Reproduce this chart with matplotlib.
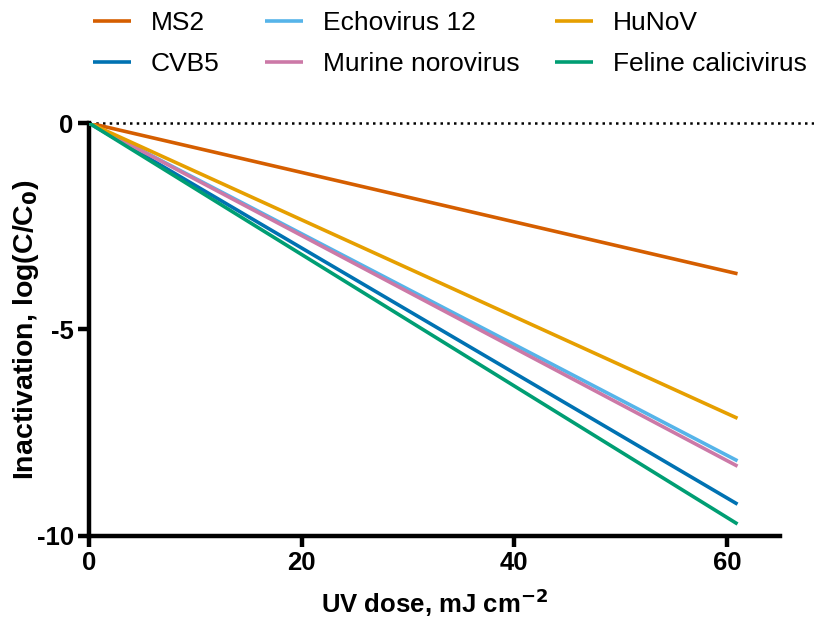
import matplotlib
matplotlib.use("Agg")
import matplotlib.pyplot as plt
import numpy as np

plt.rcParams['font.family'] = ['Liberation Sans', 'DejaVu Sans']

# virus names and inactivation reached at the highest UV dose
virus = ['MS2', 'CVB5', 'Echovirus 12', 'Murine norovirus', 'HuNoV', 'Feline calicivirus']
log_final = [-3.65, -9.23, -8.18, -8.31, -7.15, -9.71]
colores = ['#D55E00', '#0072B2', '#56B4E9', '#CC79A7', '#E69F00', '#009E73']
dosis = [0, 61]

fig = plt.figure(figsize=(8.14, 6.2), dpi=100)
ax = fig.add_axes([0.1093, 0.1355, 0.849, 0.6661])

# dotted reference line at zero
ax.plot([0, 68.3], [0, 0], linestyle=(0, (1, 1.7)), color='black', lw=1.8,
        clip_on=False, zorder=1)

lineas = []
for i in range(len(virus)):
    ln, = ax.plot(dosis, [0, log_final[i]], color=colores[i], lw=2.6,
                  label=virus[i], solid_capstyle='butt', zorder=3)
    lineas.append(ln)

ax.set_xlim(0, 65)
ax.set_ylim(-10, 0)
ax.set_xticks([0, 20, 40, 60])
ax.set_yticks([0, -5, -10])
ax.set_yticklabels(['0', '-5', '-10'])

for lado in ['top', 'right']:
    ax.spines[lado].set_visible(False)
for lado in ['left', 'bottom']:
    ax.spines[lado].set_linewidth(3.2)
ax.tick_params(width=3.2, length=8, labelsize=18.5, pad=3)
for lab in ax.get_xticklabels() + ax.get_yticklabels():
    lab.set_fontweight('bold')

ax.set_xlabel('UV dose, mJ cm$^{\\mathbf{-2}}$', fontsize=18.5, fontweight='bold', labelpad=8)
ax.set_ylabel('Inactivation, log(C/C$_{\\mathbf{0}}$)', fontsize=20.5, fontweight='bold', labelpad=-3)

# legend in three columns, two entries each
x_col = [0.1143, 0.3256, 0.6818]
for c in range(3):
    leg = fig.legend(lineas[2 * c:2 * c + 2], virus[2 * c:2 * c + 2], loc='center left',
                     bbox_to_anchor=(x_col[c], 0.9298), frameon=False, fontsize=19,
                     handlelength=1.45, handletextpad=0.75, labelspacing=0.64,
                     borderpad=0, borderaxespad=0)

fig.savefig('out.png', dpi=100)
